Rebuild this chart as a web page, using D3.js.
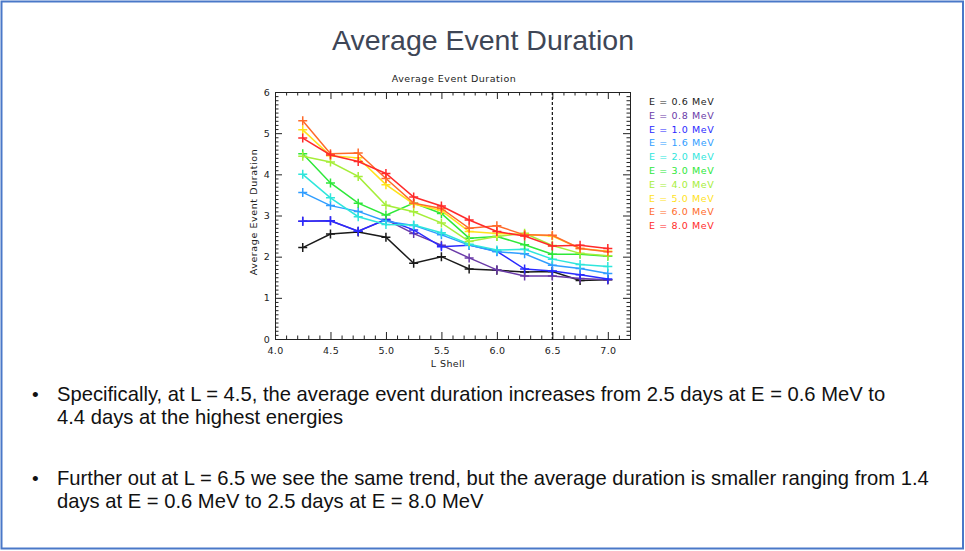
<!DOCTYPE html>
<html><head><meta charset="utf-8">
<script src="https://cdn.jsdelivr.net/npm/d3@7"></script>
<style>
html,body{margin:0;padding:0;background:#fff;}
svg{display:block;}
</style></head>
<body>
<script>
// ---- data ----
const lShell = [4.25, 4.5, 4.75, 5.0, 5.25, 5.5, 5.75, 6.0, 6.25, 6.5, 6.75, 7.0];
const energyLabels = ["E = 0.6 MeV","E = 0.8 MeV","E = 1.0 MeV","E = 1.6 MeV","E = 2.0 MeV","E = 3.0 MeV","E = 4.0 MeV","E = 5.0 MeV","E = 6.0 MeV","E = 8.0 MeV"];
const e06 = [2.22, 2.55, 2.60, 2.47, 1.84, 2.00, 1.70, 1.67, 1.63, 1.64, 1.42, 1.44];
const e08 = [2.86, 2.87, 2.62, 2.90, 2.56, 2.28, 1.97, 1.68, 1.53, 1.53, 1.47, 1.44];
const e10 = [2.86, 2.87, 2.62, 2.90, 2.65, 2.24, 2.28, 2.13, 1.70, 1.65, 1.56, 1.46];
const e16 = [3.56, 3.24, 3.10, 2.86, 2.76, 2.53, 2.28, 2.12, 2.07, 1.79, 1.71, 1.59];
const e20 = [4.00, 3.43, 2.97, 2.78, 2.77, 2.58, 2.30, 2.16, 2.18, 1.94, 1.81, 1.76];
const e30 = [4.50, 3.79, 3.30, 3.01, 3.30, 3.05, 2.45, 2.49, 2.29, 2.06, 2.06, 2.01];
const e40 = [4.44, 4.30, 3.95, 3.25, 3.09, 2.82, 2.37, 2.49, 2.57, 2.27, 2.08, 2.02];
const e50 = [5.08, 4.45, 4.40, 3.75, 3.28, 3.12, 2.61, 2.56, 2.54, 2.50, 2.20, 2.13];
const e60 = [5.30, 4.50, 4.52, 3.90, 3.30, 3.17, 2.69, 2.75, 2.53, 2.52, 2.20, 2.12];
const e80 = [4.88, 4.47, 4.31, 4.02, 3.45, 3.23, 2.89, 2.61, 2.50, 2.26, 2.28, 2.20];
const seriesColors = ["#1a1a1a","#6a3aa8","#2a2aff","#2f9dff","#2ee6dc","#2ee83a","#a6ee3a","#ffe21a","#ff6a2a","#ff2a2a"];
const xMajorTicks = [4.0, 4.5, 5.0, 5.5, 6.0, 6.5, 7.0];
const yMajorTicks = [0, 1, 2, 3, 4, 5, 6];
const markerL = 6.5;

const slideTitle = "Average Event Duration";
const plotTitle = "Average Event Duration";
const xLabel = "L Shell";
const yLabel = "Average Event Duration";
const bullet1 = ["Specifically, at L = 4.5, the average event duration increases from 2.5 days at E = 0.6 MeV to", "4.4 days at the highest energies"];
const bullet2 = ["Further out at L = 6.5 we see the same trend, but the average duration is smaller ranging from 1.4", "days at E = 0.6 MeV to 2.5 days at E = 8.0 MeV"];

const seriesValues = [e06, e08, e10, e16, e20, e30, e40, e50, e60, e80];

// ---- layout ----
const W = 965, H = 551;
const svg = d3.select("body").append("svg").attr("width", W).attr("height", H);

svg.append("rect").attr("x", 1.5).attr("y", 1.5).attr("width", W - 3.5).attr("height", H - 4)
  .attr("fill", "#fff").attr("stroke", "#4a78c8").attr("stroke-width", 2);

svg.append("text").attr("x", 483).attr("y", 50).attr("text-anchor", "middle")
  .attr("font-family", "Liberation Sans, Arial, sans-serif").attr("font-size", 28.5)
  .attr("fill", "#3e4656").text(slideTitle);

const pl = 275, pr = 630, pt = 92, pb = 339;
const x = d3.scaleLinear().domain([4.0, 7.2]).range([pl, pr]);
const y = d3.scaleLinear().domain([0, 6]).range([pb, pt]);

const plotFont = "DejaVu Sans, sans-serif";
const g = svg.append("g");

// plot title
g.append("text").attr("x", 454).attr("y", 82).attr("text-anchor", "middle")
  .attr("font-family", plotFont).attr("font-size", 9.5).attr("letter-spacing", 0.5).attr("fill", "#222").text(plotTitle);

// axes
const xMinor = d3.range(40, 73).map(d => d / 10).filter(d => !xMajorTicks.some(t => Math.abs(t - d) < 1e-6));
const yMinor = d3.range(0, 61).map(d => d / 10).filter(d => !yMajorTicks.some(t => Math.abs(t - d) < 1e-6));

function styleAxis(sel, labels) {
  sel.select(".domain").attr("stroke", "#222").attr("stroke-width", 1);
  sel.selectAll(".tick line").attr("stroke", "#222").attr("stroke-width", 1);
  sel.selectAll("text").attr("font-family", plotFont).attr("font-size", 9.5).attr("letter-spacing", 0.3).attr("fill", "#222");
  if (!labels) sel.selectAll("text").remove();
}

const bx = g.append("g").attr("transform", `translate(0,${pb})`)
  .call(d3.axisBottom(x).tickValues(xMajorTicks).tickSize(-7).tickPadding(8).tickFormat(d3.format(".1f")));
styleAxis(bx, true);
const bxm = g.append("g").attr("transform", `translate(0,${pb})`)
  .call(d3.axisBottom(x).tickValues(xMinor).tickSize(-3.5).tickFormat(""));
styleAxis(bxm, false);
const tx = g.append("g").attr("transform", `translate(0,${pt})`)
  .call(d3.axisTop(x).tickValues(xMajorTicks).tickSize(-7).tickFormat(""));
styleAxis(tx, false);
const txm = g.append("g").attr("transform", `translate(0,${pt})`)
  .call(d3.axisTop(x).tickValues(xMinor).tickSize(-3.5).tickFormat(""));
styleAxis(txm, false);

const ly = g.append("g").attr("transform", `translate(${pl},0)`)
  .call(d3.axisLeft(y).tickValues(yMajorTicks).tickSize(-7).tickPadding(5).tickFormat(d3.format("d")));
styleAxis(ly, true);
const lym = g.append("g").attr("transform", `translate(${pl},0)`)
  .call(d3.axisLeft(y).tickValues(yMinor).tickSize(-3.5).tickFormat(""));
styleAxis(lym, false);
const ry = g.append("g").attr("transform", `translate(${pr},0)`)
  .call(d3.axisRight(y).tickValues(yMajorTicks).tickSize(-7).tickFormat(""));
styleAxis(ry, false);
const rym = g.append("g").attr("transform", `translate(${pr},0)`)
  .call(d3.axisRight(y).tickValues(yMinor).tickSize(-3.5).tickFormat(""));
styleAxis(rym, false);

// axis labels
g.append("text").attr("x", 448).attr("y", 367).attr("text-anchor", "middle")
  .attr("font-family", plotFont).attr("font-size", 9.5).attr("letter-spacing", 0.4).attr("fill", "#222").text(xLabel);
g.append("text").attr("transform", `translate(257,${212}) rotate(-90)`).attr("text-anchor", "middle")
  .attr("font-family", plotFont).attr("font-size", 9.5).attr("letter-spacing", 0.6).attr("fill", "#222").text(yLabel);

// dashed marker line
g.append("line").attr("x1", x(markerL)).attr("x2", x(markerL)).attr("y1", y(6)).attr("y2", y(0))
  .attr("stroke", "#111").attr("stroke-width", 1.2).attr("stroke-dasharray", "3,2");

// series
const line = d3.line().x((d, i) => x(lShell[i])).y(d => y(d));
const ms = 4.5;
seriesValues.forEach((vals, k) => {
  const c = seriesColors[k];
  g.append("path").datum(vals).attr("d", line).attr("fill", "none")
    .attr("stroke", c).attr("stroke-width", 1.5);
  g.append("g").selectAll("path").data(vals).join("path")
    .attr("d", (d, i) => {
      const cx = x(lShell[i]), cy = y(d);
      return `M${cx - ms},${cy}H${cx + ms}M${cx},${cy - ms}V${cy + ms}`;
    })
    .attr("stroke", c).attr("stroke-width", 1.5);
});

// legend
const lg = g.append("g");
energyLabels.forEach((lab, k) => {
  lg.append("text").attr("x", 649).attr("y", 105 + k * 13.8)
    .attr("font-family", plotFont).attr("font-size", 9.5).attr("letter-spacing", 0.6)
    .attr("fill", seriesColors[k]).attr("xml:space", "preserve").text(lab);
});

// bullets
const bf = "Liberation Sans, Arial, sans-serif";
function bullet(lines, y0) {
  svg.append("text").attr("x", 32).attr("y", y0).attr("font-family", bf).attr("font-size", 19).attr("fill", "#111").text("•");
  lines.forEach((t, i) => {
    svg.append("text").attr("x", 57).attr("y", y0 + i * 23).attr("font-family", bf)
      .attr("font-size", 20.2).attr("fill", "#111").text(t);
  });
}
bullet(bullet1, 401);
bullet(bullet2, 485);
</script>
</body></html>
